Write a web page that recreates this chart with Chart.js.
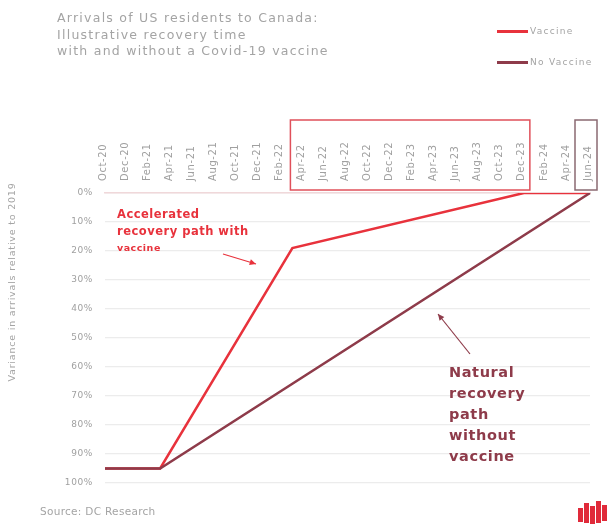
<!DOCTYPE html>
<html lang="en">
<head>
<meta charset="UTF-8">
<title>Arrivals of US residents to Canada</title>
<script src="https://cdn.jsdelivr.net/npm/chart.js"></script>
<style>
  body { margin: 0; background: #ffffff; font-family: "DejaVu Sans", sans-serif; }
  #wrap { position: relative; width: 616px; height: 527px; overflow: hidden; }
  #chart { position: absolute; left: 0; top: 0; }
  .title { position: absolute; left: 57px; top: 10px; color: #a4a4a4; font-size: 12.5px; line-height: 16.5px; letter-spacing: 1.25px; }
  .legend { position: absolute; left: 497px; color: #a4a4a4; font-size: 9px; letter-spacing: 1.3px; display: flex; align-items: center; }
  .legend span.sw { display: inline-block; width: 31px; height: 3px; margin-right: 2px; }
  .source { position: absolute; left: 40px; top: 505px; color: #a4a4a4; font-size: 10.5px; letter-spacing: 0.3px; }
</style>
</head>
<body>
<div id="wrap">
  <canvas id="chart" width="616" height="527"></canvas>
  <div class="title">Arrivals of US residents to Canada:<br>Illustrative recovery time<br>with and without a Covid-19 vaccine</div>
  <div class="legend" style="top:26px"><span class="sw" style="background:#e8323c"></span>Vaccine</div>
  <div class="legend" style="top:57px"><span class="sw" style="background:#8e3b4a"></span>No Vaccine</div>
  <div class="source">Source: DC Research</div>
</div>
<script>
// monthly categories, labelled every second month
const months = [
  'Oct-20', 'Nov-20', 'Dec-20',
  'Jan-21', 'Feb-21', 'Mar-21', 'Apr-21', 'May-21', 'Jun-21', 'Jul-21', 'Aug-21', 'Sep-21', 'Oct-21', 'Nov-21', 'Dec-21',
  'Jan-22', 'Feb-22', 'Mar-22', 'Apr-22', 'May-22', 'Jun-22', 'Jul-22', 'Aug-22', 'Sep-22', 'Oct-22', 'Nov-22', 'Dec-22',
  'Jan-23', 'Feb-23', 'Mar-23', 'Apr-23', 'May-23', 'Jun-23', 'Jul-23', 'Aug-23', 'Sep-23', 'Oct-23', 'Nov-23', 'Dec-23',
  'Jan-24', 'Feb-24', 'Mar-24', 'Apr-24', 'May-24', 'Jun-24'
];

// variance in arrivals vs 2019 (%), at the turning points of each path
const vaccineMonths = ['Oct-20', 'Mar-21', 'Mar-22', 'Dec-23', 'Jun-24'];
const vaccineValues = [95, 95, 19, 0, 0];
const noVaccineMonths = ['Oct-20', 'Mar-21', 'Jun-24'];
const noVaccineValues = [95, 95, 0];

const yTicks = [0, 10, 20, 30, 40, 50, 60, 70, 80, 90, 100];

const RED = '#e8323c';
const BROWN = '#8e3b4a';
const FONT = '"DejaVu Sans", sans-serif';

const toPoints = (m, v) => m.map((x, i) => ({ x: x, y: v[i] }));

function arrow(ctx, x1, y1, x2, y2, color) {
  ctx.strokeStyle = color;
  ctx.fillStyle = color;
  ctx.lineWidth = 1.2;
  ctx.beginPath();
  ctx.moveTo(x1, y1);
  ctx.lineTo(x2, y2);
  ctx.stroke();
  const a = Math.atan2(y2 - y1, x2 - x1);
  ctx.beginPath();
  ctx.moveTo(x2, y2);
  ctx.lineTo(x2 - 7 * Math.cos(a - 0.45), y2 - 7 * Math.sin(a - 0.45));
  ctx.lineTo(x2 - 7 * Math.cos(a + 0.45), y2 - 7 * Math.sin(a + 0.45));
  ctx.closePath();
  ctx.fill();
}

const extras = {
  id: 'extras',
  beforeDraw(chart) {
    chart.ctx.letterSpacing = '0.6px';
  },
  afterDraw(chart) {
    const ctx = chart.ctx;
    const x = chart.scales.x;
    ctx.save();

    // boxes round the label groups
    ctx.lineWidth = 1.5;
    ctx.strokeStyle = '#e0505a';
    const bx1 = x.getPixelForValue(months.indexOf('Apr-22')) - 13;
    const bx2 = x.getPixelForValue(months.indexOf('Dec-23')) + 6;
    ctx.strokeRect(bx1, 120, bx2 - bx1, 70);
    ctx.strokeStyle = '#8a6a72';
    const gx = x.getPixelForValue(months.indexOf('Jun-24'));
    ctx.strokeRect(gx - 15, 120, 22, 70);

    // y axis title
    ctx.letterSpacing = '0.8px';
    ctx.fillStyle = '#a4a4a4';
    ctx.font = '9.5px ' + FONT;
    ctx.translate(13, 282);
    ctx.rotate(-Math.PI / 2);
    ctx.textAlign = 'center';
    ctx.textBaseline = 'middle';
    ctx.fillText('Variance in arrivals relative to 2019', 0, 0);
    ctx.setTransform(1, 0, 0, 1, 0, 0);

    // annotation: accelerated path
    ctx.letterSpacing = '0.5px';
    ctx.fillStyle = RED;
    ctx.textAlign = 'left';
    ctx.font = 'bold 11.5px ' + FONT;
    ctx.fillText('Accelerated', 117, 215);
    ctx.fillText('recovery path with', 117, 232);
    ctx.font = 'bold 9.5px ' + FONT;
    ctx.fillText('vaccine', 117, 249);
    arrow(ctx, 223, 254, 256, 264, RED);

    // annotation: natural path
    ctx.letterSpacing = '0.6px';
    ctx.fillStyle = BROWN;
    ctx.font = 'bold 14.5px ' + FONT;
    ['Natural', 'recovery', 'path', 'without', 'vaccine'].forEach((t, i) => {
      ctx.fillText(t, 449, 373 + i * 21);
    });
    arrow(ctx, 470, 354, 438, 314, BROWN);

    // small logo mark
    ctx.fillStyle = '#e02a3a';
    [[578, 508, 5, 14], [584, 503, 5, 20], [590, 506, 5, 18], [596, 501, 5, 22], [602, 505, 5, 16]].forEach(r => {
      ctx.fillRect(r[0], r[1], r[2], r[3]);
    });
    ctx.restore();
  }
};

new Chart(document.getElementById('chart'), {
  type: 'line',
  data: {
    labels: months,
    datasets: [
      {
        label: 'No Vaccine',
        data: toPoints(noVaccineMonths, noVaccineValues),
        borderColor: BROWN,
        borderWidth: 2.5,
        pointRadius: 0,
        tension: 0,
        spanGaps: true
      },
      {
        label: 'Vaccine',
        data: toPoints(vaccineMonths, vaccineValues),
        borderColor: RED,
        borderWidth: 2.5,
        pointRadius: 0,
        tension: 0,
        spanGaps: true
      }
    ]
  },
  options: {
    responsive: false,
    animation: false,
    devicePixelRatio: 1,
    layout: { padding: { top: 100, left: 0, right: 26, bottom: 44 } },
    plugins: { legend: { display: false }, tooltip: { enabled: false } },
    scales: {
      x: {
        position: 'top',
        offset: false,
        grid: { display: false },
        border: { color: '#f0d8da', width: 1.5 },
        afterFit: s => { s.height = 93; },
        ticks: {
          autoSkip: false,
          minRotation: 90,
          maxRotation: 90,
          padding: 4,
          labelOffset: 10,
          color: '#a0a0a0',
          font: { family: FONT, size: 10 },
          callback: (v, i) => (i % 2 === 0 ? months[i] : null)
        }
      },
      y: {
        reverse: true,
        min: 0,
        max: 100,
        afterFit: s => { s.width = 105; },
        afterBuildTicks: s => { s.ticks = yTicks.map(v => ({ value: v })); },
        grid: { color: '#ececec', lineWidth: 1.2, drawTicks: false },
        border: { display: false },
        ticks: {
          padding: 12,
          color: '#a0a0a0',
          font: { family: FONT, size: 9 },
          callback: v => v + '%'
        }
      }
    }
  },
  plugins: [extras]
});
</script>
</body>
</html>
